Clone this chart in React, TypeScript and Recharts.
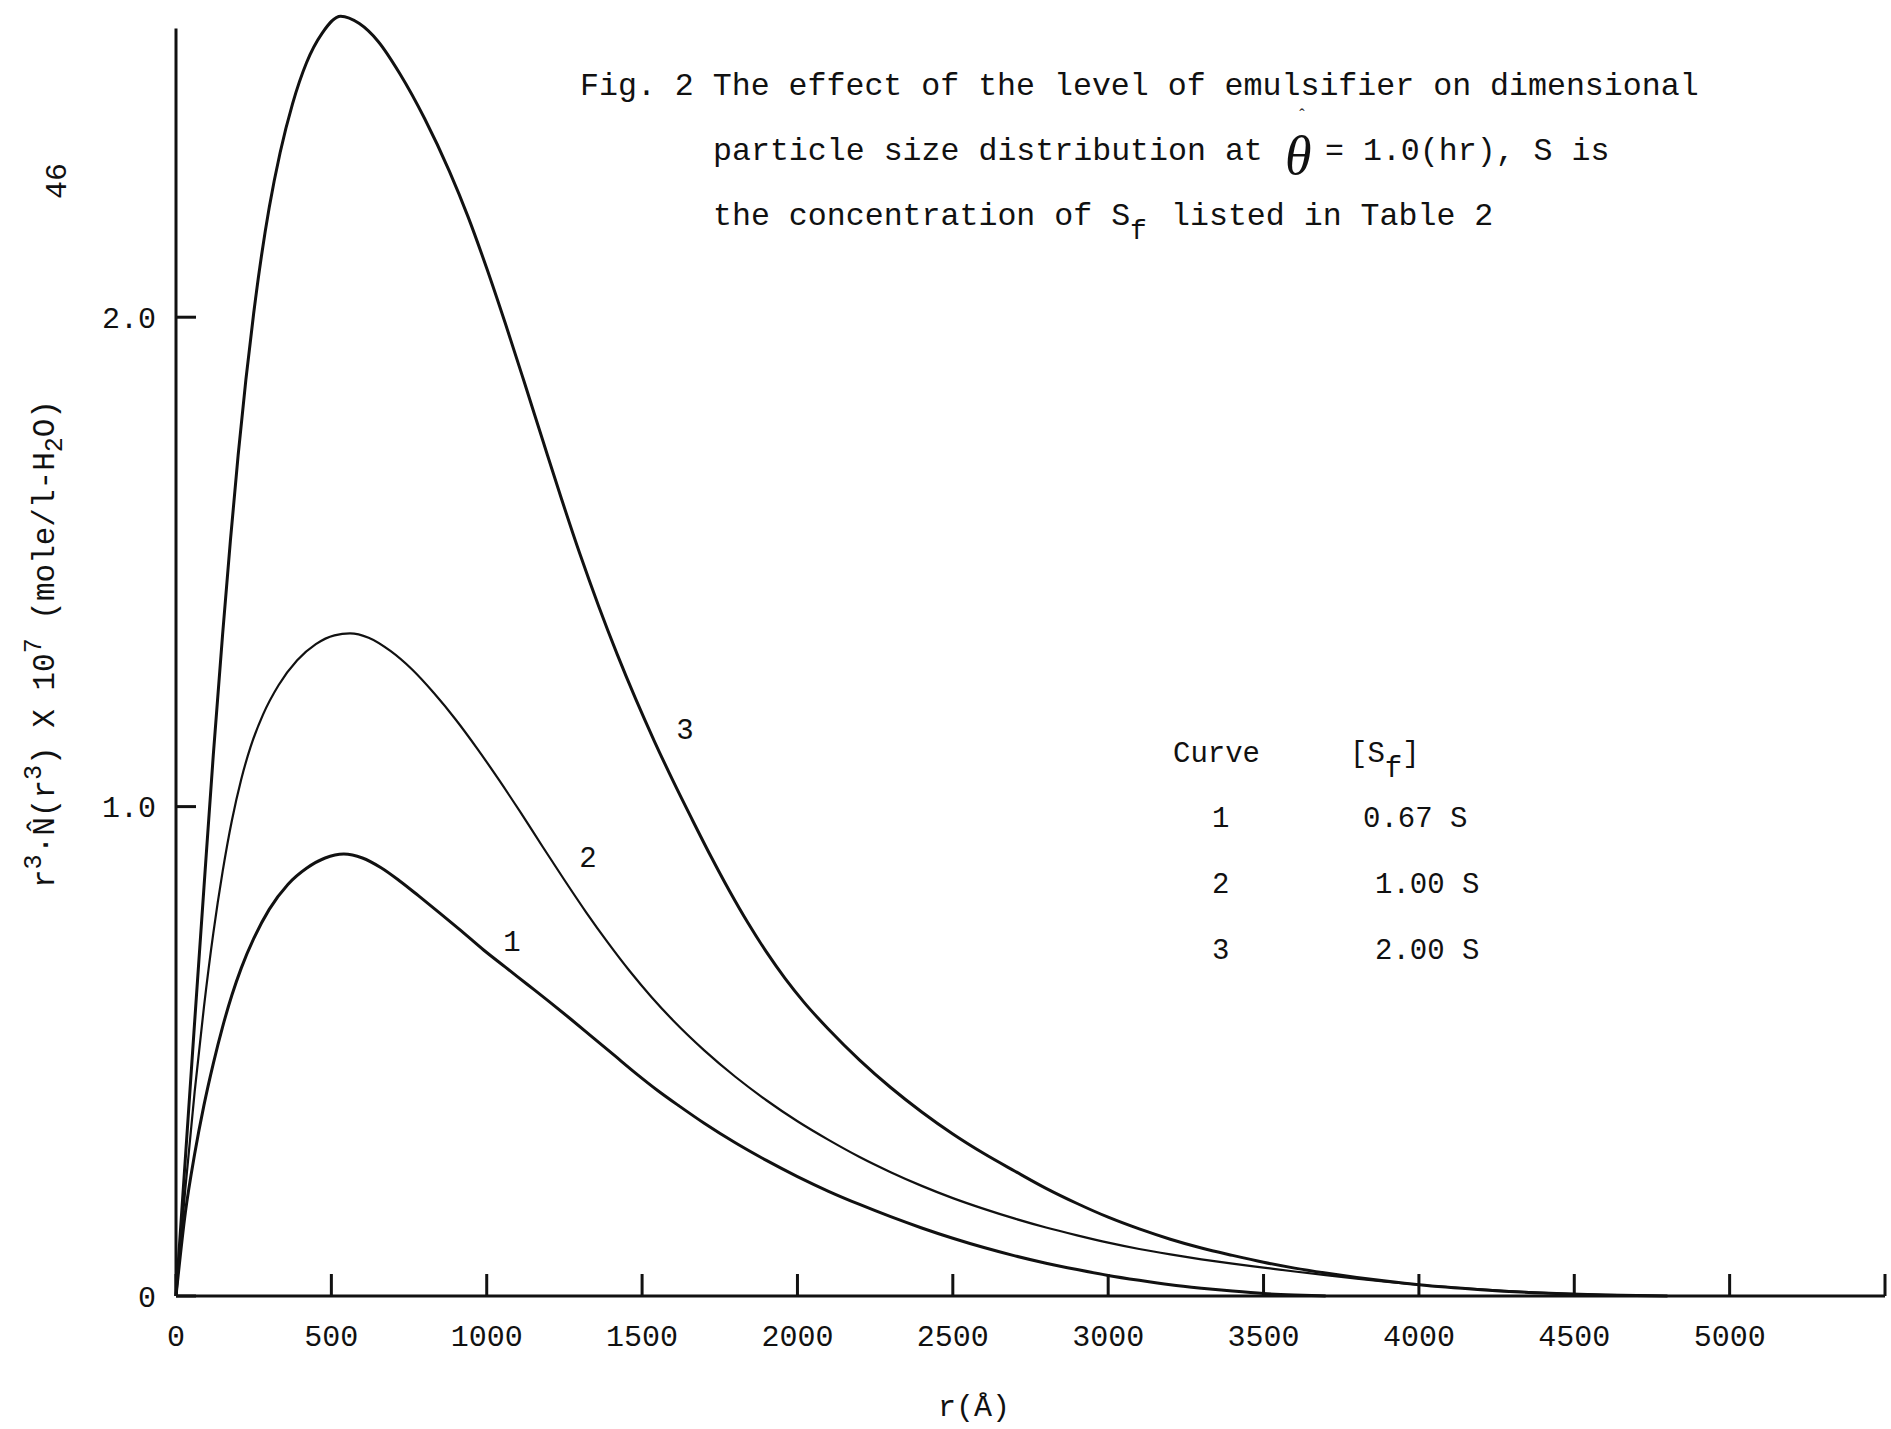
import { LineChart, Line, XAxis, YAxis, ReferenceLine, ReferenceDot } from "recharts";

const INK = "#111";
const FONT = "'Liberation Mono', 'DejaVu Sans Mono', monospace";

// r (Angstrom) and r^3·N(r^3) x 10^7 for each curve
const r1 = [0, 30, 60, 90, 120, 150, 180, 210, 250, 300, 360, 420, 480, 540, 600, 660, 720, 780, 850, 920, 990, 1060, 1130, 1200, 1270, 1340, 1410, 1480, 1550, 1620, 1700, 1800, 1900, 2000, 2100, 2200, 2300, 2400, 2500, 2600, 2700, 2800, 2900, 3000, 3100, 3200, 3300, 3400, 3500, 3600, 3700];
const v1 = [0, 0.17, 0.29, 0.39, 0.475, 0.55, 0.615, 0.67, 0.73, 0.79, 0.841, 0.874, 0.895, 0.903, 0.895, 0.875, 0.848, 0.818, 0.782, 0.745, 0.707, 0.672, 0.637, 0.602, 0.566, 0.529, 0.492, 0.455, 0.42, 0.388, 0.353, 0.313, 0.277, 0.244, 0.214, 0.187, 0.162, 0.139, 0.118, 0.099, 0.082, 0.067, 0.054, 0.042, 0.032, 0.023, 0.016, 0.01, 0.005, 0.002, 0];

const r2 = [0, 30, 60, 90, 120, 150, 180, 210, 240, 280, 330, 390, 450, 510, 560, 620, 690, 760, 830, 900, 970, 1040, 1110, 1180, 1250, 1320, 1390, 1460, 1530, 1600, 1700, 1800, 1900, 2000, 2100, 2200, 2300, 2400, 2500, 2600, 2700, 2800, 2900, 3000, 3100, 3200, 3300, 3400, 3500, 3600, 3700, 3800, 3900, 4000, 4200, 4400, 4600, 4800];
const v2 = [0, 0.219, 0.417, 0.591, 0.741, 0.867, 0.972, 1.056, 1.122, 1.188, 1.248, 1.299, 1.332, 1.35, 1.354, 1.345, 1.318, 1.28, 1.232, 1.178, 1.118, 1.054, 0.987, 0.918, 0.85, 0.784, 0.722, 0.664, 0.611, 0.563, 0.502, 0.448, 0.4, 0.357, 0.319, 0.284, 0.253, 0.225, 0.2, 0.178, 0.158, 0.14, 0.124, 0.109, 0.096, 0.085, 0.075, 0.066, 0.058, 0.05, 0.0425, 0.0355, 0.029, 0.023, 0.0135, 0.0065, 0.0025, 0];

const r3 = [0, 30, 60, 90, 120, 150, 175, 200, 225, 250, 275, 300, 335, 375, 420, 470, 530, 590, 650, 720, 800, 880, 940, 1000, 1060, 1120, 1180, 1240, 1300, 1360, 1420, 1480, 1540, 1600, 1660, 1720, 1780, 1840, 1900, 1960, 2020, 2100, 2200, 2300, 2400, 2500, 2600, 2700, 2800, 2900, 3000, 3100, 3200, 3300, 3400, 3500, 3600, 3700, 3800, 3900, 4000, 4200, 4400, 4600, 4800];
const v3 = [0, 0.28, 0.56, 0.835, 1.105, 1.352, 1.543, 1.718, 1.873, 2.008, 2.125, 2.224, 2.336, 2.436, 2.52, 2.58, 2.615, 2.6, 2.564, 2.498, 2.406, 2.298, 2.205, 2.1, 1.987, 1.869, 1.749, 1.63, 1.516, 1.41, 1.311, 1.219, 1.133, 1.052, 0.975, 0.9, 0.829, 0.763, 0.703, 0.649, 0.601, 0.545, 0.482, 0.426, 0.376, 0.331, 0.291, 0.255, 0.22, 0.189, 0.161, 0.137, 0.116, 0.098, 0.083, 0.069, 0.057, 0.047, 0.038, 0.03, 0.023, 0.013, 0.006, 0.002, 0];

const xTicks = [0, 500, 1000, 1500, 2000, 2500, 3000, 3500, 4000, 4500, 5000, 5500];
const yTicks = [0, 1, 2];
const yTickLabels = ["0", "1.0", "2.0"];

const curveNames = ["1", "2", "3"];
const curveConc = ["0.67 S", "1.00 S", "2.00 S"];
const curveLabelAt = [
  { r: 1081, v: 0.727 },
  { r: 1326, v: 0.897 },
  { r: 1638, v: 1.16 },
];

const toPoints = (rs: number[], vs: number[]) => rs.map((r, i) => ({ r, v: vs[i] }));
const series = [
  { data: toPoints(r1, v1), width: 3 },
  { data: toPoints(r2, v2), width: 2.2 },
  { data: toPoints(r3, v3), width: 3 },
];

const txt = { fontFamily: FONT, fill: INK } as const;

export default function App() {
  return (
    <div style={{ position: "absolute", left: 0, top: 0, width: 1891, height: 1429, background: "#fff" }}>
      <LineChart width={1891} height={1429} margin={{ top: 4, right: 6, bottom: 0, left: 0 }}>
        <XAxis
          dataKey="r"
          type="number"
          domain={[0, 5500]}
          ticks={xTicks}
          interval={0}
          height={133}
          tickSize={-22}
          tickMargin={51}
          tickFormatter={(t: number) => (t === 5500 ? "" : String(t))}
          tick={{ ...txt, fontSize: 30 }}
          axisLine={{ stroke: INK, strokeWidth: 3 }}
          tickLine={{ stroke: INK, strokeWidth: 3 }}
        />
        <YAxis
          type="number"
          domain={[0, 2.64]}
          ticks={yTicks}
          width={176}
          tickSize={-20}
          tickMargin={40}
          tickFormatter={(t: number) => yTickLabels[yTicks.indexOf(t)]}
          tick={{ ...txt, fontSize: 30 }}
          axisLine={false}
          tickLine={{ stroke: INK, strokeWidth: 3 }}
        />
        <ReferenceLine
          segment={[{ x: 0, y: 0 }, { x: 0, y: 2.59 }]}
          stroke={INK}
          strokeWidth={3}
        />
        {series.map((s, i) => (
          <Line
            key={i}
            data={s.data}
            dataKey="v"
            type="monotone"
            stroke={INK}
            strokeWidth={s.width}
            dot={false}
            isAnimationActive={false}
          />
        ))}
        {curveLabelAt.map((p, i) => (
          <ReferenceDot
            key={"lbl" + i}
            x={p.r}
            y={p.v}
            r={1}
            fill="none"
            stroke="none"
            label={{ value: curveNames[i], position: "center", fontSize: 29, fontFamily: FONT, fill: INK }}
          />
        ))}
      </LineChart>

      <svg
        width={1891}
        height={1429}
        style={{ position: "absolute", left: 0, top: 0, pointerEvents: "none" }}
      >
        <g {...txt} fontSize={31.6}>
          <text x={580} y={95}>Fig. 2 The effect of the level of emulsifier on dimensional</text>
          <text x={713} y={160}>particle size distribution at</text>
          <text x={1285} y={174} fontFamily="'Liberation Serif', serif" fontStyle="italic" fontSize={54}>θ</text>
          <text x={1302} y={120} fontFamily="'Liberation Serif', serif" fontSize={16} textAnchor="middle">ˆ</text>
          <text x={1325} y={160}>= 1.0(hr), S is</text>
          <text x={713} y={225}>
            the concentration of S<tspan dy={14} fontSize={28}>f</tspan>
          </text>
          <text x={1171} y={225}>listed in Table 2</text>
        </g>

        <g {...txt} fontSize={29}>
          <text x={1173} y={762}>Curve</text>
          <text x={1350} y={762}>
            [S<tspan dy={15}>f</tspan><tspan dy={-15}>]</tspan>
          </text>
          {curveNames.map((n, i) => (
            <text key={"n" + i} x={1212} y={827 + i * 66}>{n}</text>
          ))}
          {curveConc.map((c, i) => (
            <text key={"c" + i} x={i === 0 ? 1363 : 1375} y={827 + i * 66}>{c}</text>
          ))}
        </g>

        <text {...txt} fontSize={31} transform="translate(54,644) rotate(-90)" textAnchor="middle">
          r<tspan dy={-13} fontSize={25}>3</tspan>
          <tspan dy={13}>·N̂(r</tspan>
          <tspan dy={-13} fontSize={25}>3</tspan>
          <tspan dy={13}>) X 10</tspan>
          <tspan dy={-13} fontSize={25}>7</tspan>
          <tspan dy={13}> (mole/l-H</tspan>
          <tspan dy={8} fontSize={25}>2</tspan>
          <tspan dy={-8}>O)</tspan>
        </text>

        <text {...txt} fontSize={30} transform="translate(66,181) rotate(-90)" textAnchor="middle">46</text>

        <text {...txt} fontSize={30} x={974} y={1416} textAnchor="middle">r(Å)</text>
      </svg>
    </div>
  );
}
